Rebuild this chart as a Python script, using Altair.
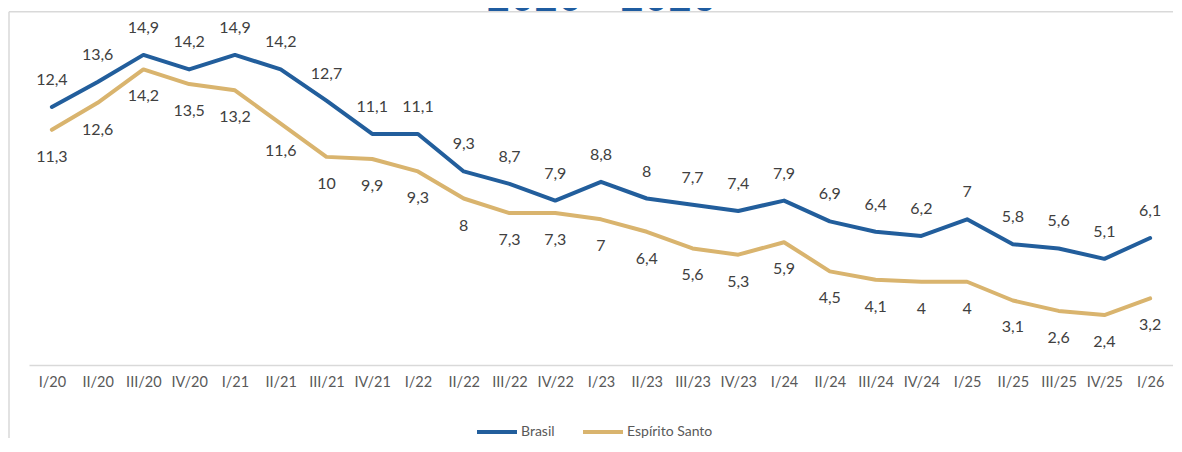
import altair as alt
import pandas as pd

quarters = ["I/20", "II/20", "III/20", "IV/20", "I/21", "II/21", "III/21", "IV/21",
            "I/22", "II/22", "III/22", "IV/22", "I/23", "II/23", "III/23", "IV/23",
            "I/24", "II/24", "III/24", "IV/24", "I/25", "II/25", "III/25", "IV/25", "I/26"]
brasil = [12.4, 13.6, 14.9, 14.2, 14.9, 14.2, 12.7, 11.1, 11.1, 9.3, 8.7, 7.9, 8.8,
          8.0, 7.7, 7.4, 7.9, 6.9, 6.4, 6.2, 7.0, 5.8, 5.6, 5.1, 6.1]
espirito_santo = [11.3, 12.6, 14.2, 13.5, 13.2, 11.6, 10.0, 9.9, 9.3, 8.0, 7.3, 7.3, 7.0,
                  6.4, 5.6, 5.3, 5.9, 4.5, 4.1, 4.0, 4.0, 3.1, 2.6, 2.4, 3.2]
series_names = ["Brasil", "Espírito Santo"]
series_colors = ["#225E9C", "#D9B46E"]
title_text = "2020 - 2026"


def fmt(v):
    return f"{v:g}".replace(".", ",")


rows = []
for q, b, e in zip(quarters, brasil, espirito_santo):
    rows.append({"quarter": q, "series": "Brasil", "value": b, "label": fmt(b)})
    rows.append({"quarter": q, "series": "Espírito Santo", "value": e, "label": fmt(e)})
df = pd.DataFrame(rows)

FONT = "Lato"
W, H = 1144, 333

x_enc = alt.X("quarter:N", sort=quarters,
              scale=alt.Scale(type="point", padding=0.5),
              axis=alt.Axis(title=None, ticks=False, domainColor="#d9d9d9",
                            domainWidth=1.5, labelAngle=0, labelPadding=10,
                            labelFont=FONT, labelFontSize=14.5, labelColor="#595959",
                            grid=False))
y_enc = alt.Y("value:Q", scale=alt.Scale(domain=[0, 16], nice=False, zero=True), axis=None)

base = alt.Chart(df)

lines = base.mark_line(strokeWidth=4, strokeCap="round", strokeJoin="round").encode(
    x=x_enc,
    y=y_enc,
    color=alt.Color("series:N",
                    scale=alt.Scale(domain=series_names, range=series_colors),
                    legend=alt.Legend(title=None, orient="none", direction="horizontal",
                                      legendX=446, legendY=378,
                                      symbolType="stroke", symbolStrokeWidth=4,
                                      symbolSize=1600, symbolOffset=0,
                                      labelFont=FONT, labelFontSize=14,
                                      labelColor="#595959", labelOffset=2,
                                      columnPadding=20)),
)

labels_b = base.transform_filter(alt.datum.series == "Brasil").mark_text(
    font=FONT, fontSize=16, color="#404040", baseline="middle", dy=-27
).encode(x=x_enc, y=y_enc, text="label:N")

labels_e = base.transform_filter(alt.datum.series == "Espírito Santo").mark_text(
    font=FONT, fontSize=16, color="#404040", baseline="middle", dy=27
).encode(x=x_enc, y=y_enc, text="label:N")

one = alt.Data(values=[{"t": title_text}])

frame_top = alt.Chart(one).mark_rule(stroke="#d9d9d9", strokeWidth=1.5).encode(
    x=alt.value(-20), x2=alt.value(W + 30), y=alt.value(-20.3))
frame_left = alt.Chart(one).mark_rule(stroke="#d9d9d9", strokeWidth=1.5).encode(
    x=alt.value(-20), y=alt.value(-20.3), y2=alt.value(H + 73))

title = alt.Chart(one).mark_text(
    font="Liberation Sans", fontSize=43, color="#1F5CA0", baseline="alphabetic", align="center"
).encode(text="t:N", x=alt.value(572), y=alt.value(-21.5))

chart = alt.layer(frame_top, frame_left, title, lines, labels_b, labels_e).properties(
    width=W, height=H,
    background="white",
    autosize=alt.AutoSizeParams(type="none"),
    padding={"left": 21, "right": 0, "top": 24, "bottom": 73},
).configure_view(stroke=None, strokeWidth=0, fill="white")

chart.save("out.html", embed_options={"renderer": "svg", "actions": False})
